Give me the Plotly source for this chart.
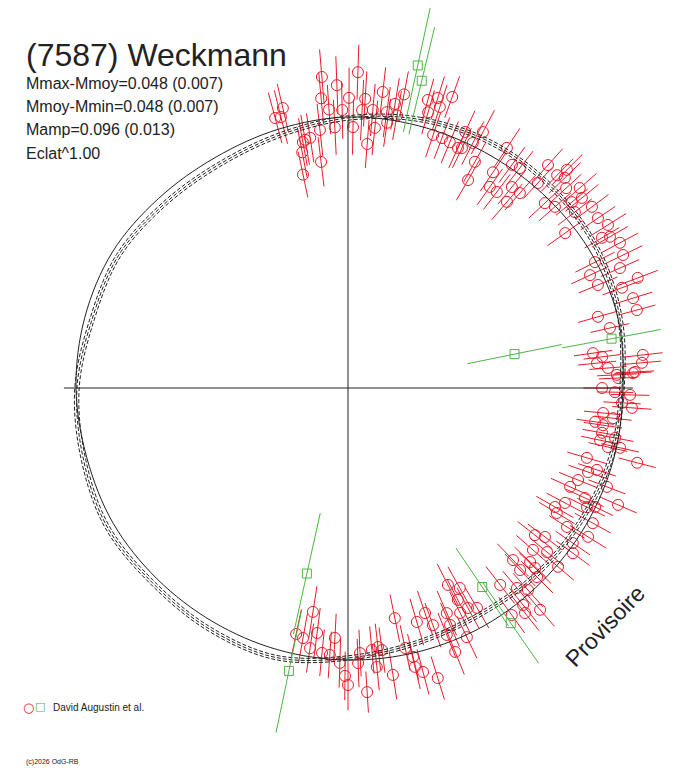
import math

import plotly.graph_objects as go

# Augustin et al. -- phase in degrees (clockwise from top), relative flux, 1-sigma
red_phase = [
    344.9, 346.9, 346.1, 349.6, 349.0, 355.2, 357.9, 354.7, 356.1, 0.2,
    1.8, 358.8, 357.1, 353.8, 351.4, 350.2, 348.1, 353.2, 1.1, 3.4,
    2.9, 5.1, 6.7, 8.0, 5.9, 4.5, 9.4, 10.2, 8.4, 10.8,
    15.5, 17.2, 18.1, 19.7, 16.2, 18.6, 20.6, 22.5, 24.6,
    27.8, 24.6, 25.4, 27.0, 29.3, 30.0, 35.2, 33.9, 33.5, 36.3,
    38.0, 39.2, 41.4, 40.5, 37.2, 42.8, 41.9, 44.5, 45.1, 45.9,
    47.5, 49.2, 50.9, 50.3, 46.8, 48.8, 53.4, 52.2, 54.5, 55.8,
    57.9, 60.0, 59.4, 61.9, 64.2, 63.0, 66.2, 65.0, 69.2, 69.9,
    72.5, 67.6, 74.9, 74.1, 77.1, 81.9, 83.0, 83.6, 85.1, 85.6,
    84.3, 87.2, 86.8,
    90.0, 87.9, 87.0, 90.9, 91.4, 93.1, 94.0, 95.6, 97.8, 98.3,
    96.5, 100.0, 101.7, 100.6, 102.4, 102.8, 104.5, 106.3, 108.2, 109.3,
    111.8, 114.0, 110.9, 114.9, 113.4, 119.9, 117.9, 120.9, 116.5, 115.7,
    122.4, 118.9, 121.8, 128.2, 127.1, 124.6, 126.3, 131.2, 129.5, 130.4,
    136.2, 136.6, 133.7, 133.9, 135.0, 142.3, 139.8, 138.3, 141.1, 144.2,
    141.8, 139.1, 153.1, 150.8, 152.6, 151.4, 149.6, 156.3, 153.5, 156.7,
    154.5, 157.9, 158.2,
    188.9, 190.2, 187.2, 183.0, 188.3, 185.6, 181.7, 177.9, 177.4, 174.8,
    173.4, 172.6, 174.1, 171.1, 168.5, 180.0, 176.4, 167.6, 163.6, 161.1,
    166.4, 166.5, 165.2, 162.8, 160.3, 191.9, 180.6, 183.9,
]
red_flux = [
    1.017, 1.045, 1.015, 0.909, 0.873, 1.135, 1.102, 1.058, 1.015, 1.055,
    1.149, 1.011, 0.949, 0.944, 0.920, 0.916, 0.793, 0.828, 0.949, 1.053,
    1.012, 1.015, 1.084, 1.013, 0.951, 0.890, 1.047, 1.007, 0.975, 1.087,
    1.087, 1.104, 1.075, 1.124, 1.044, 0.971, 0.971, 0.967, 0.960,
    1.052, 1.024, 0.966, 1.000, 0.943, 0.873, 0.895, 0.945, 1.047, 1.007,
    1.015, 0.943, 0.945, 0.890, 0.895, 1.016, 1.089, 1.085, 1.124, 1.098,
    1.076, 1.113, 1.096, 1.058, 0.982, 1.000, 1.105, 1.044, 0.970, 1.099,
    1.116, 1.100, 1.073, 1.121, 1.111, 1.008, 1.081, 0.971, 1.127, 1.061,
    1.087, 0.983, 1.088, 0.945, 0.977, 0.900, 0.931, 1.079, 1.073, 0.948,
    0.910, 0.979, 1.045,
    0.924, 0.983, 1.038, 0.971, 1.026, 0.998, 1.035, 0.932, 0.907, 0.937,
    0.970, 0.938, 0.936, 0.988, 1.013, 0.969, 1.086, 0.905, 0.953, 0.925,
    0.901, 0.884, 1.008, 0.950, 1.070, 0.868, 0.893, 0.885, 0.971, 0.997,
    0.943, 1.017, 1.027, 0.865, 0.898, 0.993, 1.015, 0.894, 0.938, 1.003,
    0.867, 0.911, 0.916, 0.944, 0.972, 0.905, 0.952, 0.984, 1.014, 1.018,
    1.041, 1.067, 0.803, 0.833, 0.868, 0.911, 0.927, 0.894, 0.914, 0.938,
    1.004, 1.036, 0.967,
    0.824, 0.924, 0.898, 0.910, 0.956, 0.968, 1.000, 1.001, 0.965, 0.957,
    0.948, 0.961, 1.020, 1.056, 0.854, 1.080, 1.108, 0.968, 0.887, 0.865,
    1.006, 1.043, 1.068, 1.104, 0.916, 0.914, 1.047, 0.973,
]
red_err = [
    0.095, 0.090, 0.100, 0.088, 0.092, 0.100, 0.105, 0.095, 0.090, 0.110,
    0.100, 0.105, 0.100, 0.095, 0.090, 0.092, 0.085, 0.090, 0.100, 0.100,
    0.110, 0.095, 0.090, 0.092, 0.100, 0.088, 0.095, 0.090, 0.088, 0.085,
    0.080, 0.082, 0.085, 0.080, 0.083, 0.085, 0.080, 0.082, 0.080,
    0.090, 0.085, 0.080, 0.088, 0.082, 0.085, 0.080, 0.083, 0.085, 0.080,
    0.078, 0.080, 0.082, 0.085, 0.080, 0.078, 0.080, 0.083, 0.078, 0.080,
    0.075, 0.080, 0.078, 0.075, 0.080, 0.078, 0.075, 0.078, 0.080, 0.076,
    0.078, 0.075, 0.073, 0.075, 0.078, 0.080, 0.076, 0.075, 0.078, 0.075,
    0.073, 0.076, 0.070, 0.075, 0.072, 0.070, 0.068, 0.072, 0.070, 0.068,
    0.070, 0.072, 0.070,
    0.068, 0.070, 0.068, 0.066, 0.070, 0.068, 0.072, 0.070, 0.068, 0.070,
    0.068, 0.072, 0.070, 0.068, 0.070, 0.072, 0.070, 0.074, 0.072, 0.075,
    0.074, 0.076, 0.072, 0.075, 0.074, 0.078, 0.076, 0.075, 0.074, 0.072,
    0.076, 0.075, 0.078, 0.080, 0.078, 0.076, 0.075, 0.080, 0.078, 0.076,
    0.082, 0.080, 0.078, 0.080, 0.082, 0.085, 0.080, 0.082, 0.078, 0.080,
    0.082, 0.080, 0.085, 0.088, 0.085, 0.083, 0.085, 0.088, 0.085, 0.087,
    0.085, 0.088, 0.086,
    0.095, 0.090, 0.092, 0.088, 0.090, 0.085, 0.090, 0.088, 0.085, 0.087,
    0.085, 0.083, 0.085, 0.090, 0.088, 0.092, 0.075, 0.085, 0.088, 0.085,
    0.085, 0.083, 0.085, 0.082, 0.085, 0.090, 0.088, 0.085,
]

# second data set (green squares)
green_phase = [12.2, 13.5, 78.5, 79.4, 192.5, 191.8, 146.0, 145.3]
green_flux = [1.200, 1.149, 0.618, 0.975, 0.691, 1.051, 0.873, 1.040]
green_err = [0.247, 0.200, 0.175, 0.182, 0.225, 0.229, 0.171, 0.178]

# fitted lightcurve models, every 15 degrees
model_phase = [0, 15, 30, 45, 60, 75, 90, 105, 120, 135, 150, 165, 180,
               195, 210, 225, 240, 255, 270, 285, 300, 315, 330, 345, 360]
model_solid = [0.9855, 0.9873, 0.9909, 1.0000, 1.0109, 1.0145, 1.0000, 1.0000,
               0.9982, 0.9964, 0.9964, 0.9927, 0.9891, 0.9855, 0.9818, 0.9818,
               0.9855, 0.9830, 0.9891, 0.9909, 0.9891, 0.9745, 0.9673, 0.9745,
               0.9855]
model_dash_a = [0.9818, 1.0109, 1.0327, 1.0400, 1.0382, 1.0218, 0.9964, 0.9891,
                0.9745, 0.9636, 0.9527, 0.9600, 0.9818, 1.0145, 1.0109, 1.0036,
                1.0109, 0.9964, 0.9855, 0.9636, 0.9636, 0.9455, 0.9382, 0.9527,
                0.9818]
model_dash_b = [0.9898, 1.0190, 1.0405, 1.0480, 1.0462, 1.0298, 1.0044, 0.9971,
                0.9825, 0.9716, 0.9607, 0.9680, 0.9898, 1.0225, 1.0189, 1.0116,
                1.0189, 1.0044, 0.9935, 0.9716, 0.9716, 0.9535, 0.9462, 0.9607,
                0.9898]
model_dash_c = [0.9738, 1.0029, 1.0247, 1.0320, 1.0302, 1.0138, 0.9884, 0.9811,
                0.9665, 0.9556, 0.9447, 0.9520, 0.9738, 1.0065, 1.0029, 0.9956,
                1.0029, 0.9884, 0.9775, 0.9556, 0.9556, 0.9375, 0.9302, 0.9447,
                0.9738]

# reach of the phase cross (top, right, bottom, left)
cross_phase = [0, 90, 180, 270]
cross_reach = [0.975, 1.036, 0.989, 1.033]

RED = "#ea1c2a"
GREEN = "#4fb444"
INK = "#222222"
FONT = "Liberation Sans, Arial, sans-serif"


def to_xy(phase, flux):
    a = math.radians(phase)
    return flux * math.sin(a), flux * math.cos(a)


def radial_bars(phase, start, end):
    xs, ys = [], []
    for p, r0, r1 in zip(phase, start, end):
        x0, y0 = to_xy(p, r0)
        x1, y1 = to_xy(p, r1)
        xs += [x0, x1, None]
        ys += [y0, y1, None]
    return xs, ys


fig = go.Figure()

xs, ys = radial_bars(red_phase, [f - e for f, e in zip(red_flux, red_err)],
                     [f + e for f, e in zip(red_flux, red_err)])
fig.add_trace(go.Scatter(x=xs, y=ys, mode="lines", line=dict(color=RED, width=1),
                         hoverinfo="skip"))
pts = [to_xy(p, f) for p, f in zip(red_phase, red_flux)]
fig.add_trace(go.Scatter(x=[p[0] for p in pts], y=[p[1] for p in pts], mode="markers",
                         marker=dict(symbol="circle-open", size=11, color=RED,
                                     line=dict(color=RED, width=1))))

xs, ys = radial_bars(cross_phase, [0, 0, 0, 0], cross_reach)
fig.add_trace(go.Scatter(x=xs, y=ys, mode="lines", line=dict(color=INK, width=1),
                         hoverinfo="skip"))

for vals, dash in [(model_solid, "solid"), (model_dash_a, "4px,2px"),
                   (model_dash_b, "4px,2px"), (model_dash_c, "4px,2px")]:
    pts = [to_xy(p, f) for p, f in zip(model_phase, vals)]
    fig.add_trace(go.Scatter(x=[p[0] for p in pts], y=[p[1] for p in pts], mode="lines",
                             line=dict(color=INK, width=1, dash=dash, shape="spline")))

xs, ys = radial_bars(green_phase, [f - e for f, e in zip(green_flux, green_err)],
                     [f + e for f, e in zip(green_flux, green_err)])
fig.add_trace(go.Scatter(x=xs, y=ys, mode="lines", line=dict(color=GREEN, width=1),
                         hoverinfo="skip"))
pts = [to_xy(p, f) for p, f in zip(green_phase, green_flux)]
fig.add_trace(go.Scatter(x=[p[0] for p in pts], y=[p[1] for p in pts], mode="markers",
                         marker=dict(symbol="square-open", size=9, color=GREEN,
                                     line=dict(color=GREEN, width=1))))

# the page puts the figure 8px in from the top-left corner
OFF = 8
W, H = 680, 760
SCALE = 275.0  # pixels per unit of relative flux
cx, cy = 348 - OFF, 388 - OFF

fig.update_layout(
    width=W, height=H,
    margin=dict(l=0, r=0, t=0, b=0),
    paper_bgcolor="white",
    plot_bgcolor="white",
    showlegend=False,
    font=dict(family=FONT, color=INK),
    xaxis=dict(range=[-cx / SCALE, (W - cx) / SCALE], visible=False, showgrid=False),
    yaxis=dict(range=[-(H - cy) / SCALE, cy / SCALE], visible=False, showgrid=False),
)


def paper(x, y):
    return (x - OFF) / W, 1 - (y - OFF) / H


texts = [
    ("(7587) Weckmann", 24, 55, 32),
    ("Mmax-Mmoy=0.048 (0.007)", 24, 83, 16),
    ("Mmoy-Mmin=0.048 (0.007)", 24, 106, 16),
    ("Mamp=0.096 (0.013)", 24, 130, 16),
    ("Eclat^1.00", 24, 153, 16),
    ("David Augustin et al.", 51, 707, 10),
    ("(c)2026 OdG-RB", 24, 762, 7),
]
for txt, x, y, size in texts:
    px, py = paper(x, y)
    fig.add_annotation(text=txt, x=px, y=py, xref="paper", yref="paper",
                       xanchor="left", yanchor="middle", showarrow=False,
                       font=dict(size=size, color=INK, family=FONT))

for sym, col, x, y, size in [("○", RED, 28, 707, 13), ("□", GREEN, 40, 706, 11)]:
    px, py = paper(x, y)
    fig.add_annotation(text=sym, x=px, y=py, xref="paper", yref="paper",
                       xanchor="center", yanchor="middle", showarrow=False,
                       font=dict(size=size, color=col, family="DejaVu Sans"))

px, py = paper(605, 626)
fig.add_annotation(text="Provisoire", x=px, y=py, xref="paper", yref="paper",
                   xanchor="center", yanchor="middle", showarrow=False, textangle=-46,
                   font=dict(size=23, color=INK, family=FONT))

fig.write_html("out.html")
